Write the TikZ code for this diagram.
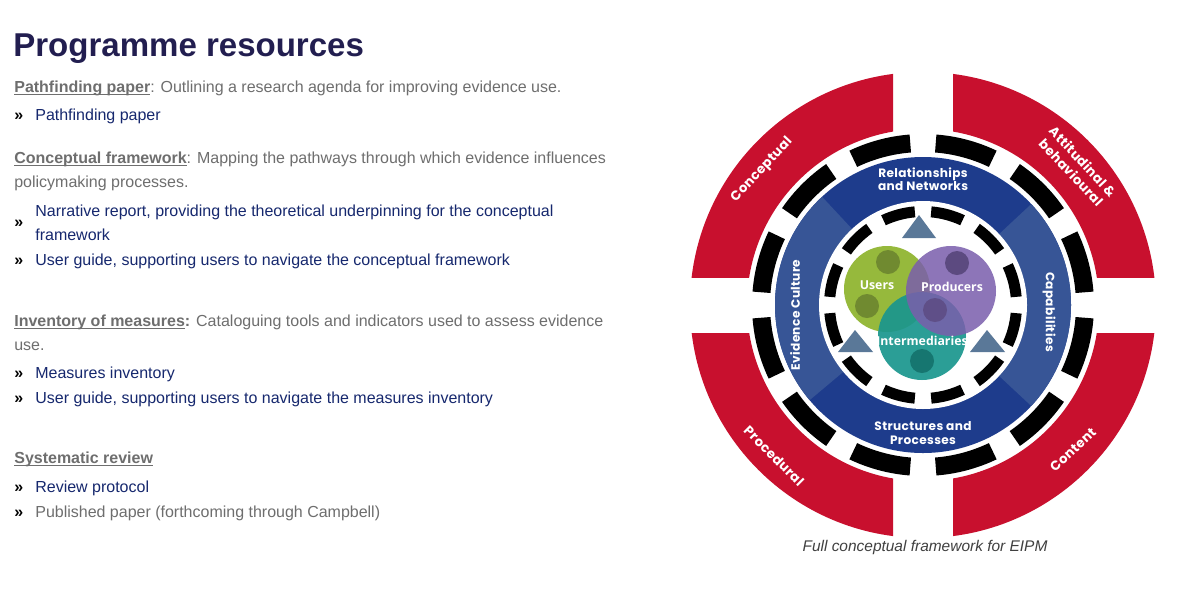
\documentclass[tikz,border=0pt]{standalone}
\usepackage{fontspec}
\setmainfont{Liberation Sans}
\newfontfamily\ringfont{Poppins}[LetterSpace=3]
\newfontfamily\vennfont{Open Sans}
\usetikzlibrary{positioning}
\definecolor{EIPMtitulo}{RGB}{34,30,80}
\definecolor{EIPMgris}  {RGB}{110,110,110}
\definecolor{EIPMenlace}{RGB}{22,40,110}
\definecolor{EIPMrojo}  {RGB}{200,16,46}
\definecolor{EIPMazul}  {RGB}{30,60,140}
\definecolor{EIPMazulc} {RGB}{55,85,150}
\definecolor{EIPMtri}   {RGB}{90,120,152}
\definecolor{EIPMverde} {RGB}{150,185,60}
\definecolor{EIPMverdeo}{RGB}{112,138,48}
\definecolor{EIPMmorado}{RGB}{122,94,172}
\definecolor{EIPMmoradoo}{RGB}{92,74,128}
\definecolor{EIPMteal}  {RGB}{26,150,142}
\definecolor{EIPMtealo} {RGB}{22,118,112}
\newcommand{\headul}[1]{\setbox0\hbox{#1}\rlap{\rule[-1.5pt]{\wd0}{0.55pt}}\box0}

\begin{document}
\begin{tikzpicture}[x=0.02cm,y=-0.02cm,
  bodytext/.style={anchor=base west,inner sep=0pt,text=EIPMgris,font=\fontsize{9.1}{11}\selectfont},
  linktext/.style={bodytext,text=EIPMenlace},
  bullet/.style={bodytext,text=black,font=\fontsize{9.1}{11}\selectfont\bfseries},
  ringlabel/.style={inner sep=0pt,text=white,align=center,font=\ringfont\fontsize{6.9}{7.6}\selectfont\bfseries},
  redlabel/.style={ringlabel,font=\ringfont\fontsize{7.5}{9}\selectfont\bfseries},
  vennlabel/.style={inner sep=0pt,text=white,font=\vennfont\fontsize{7}{8}\selectfont\bfseries}]
\useasboundingbox[fill=white] (0,0) rectangle (1200,606);

\node[anchor=base west,inner sep=0pt,text=EIPMtitulo,font=\fontsize{18.8}{22}\selectfont\bfseries] (title) at (13,56) {Programme resources};

\node[bodytext] (pfhead) at (14,92) {\headul{\textbf{Pathfinding paper}}: Outlining a research agenda for improving evidence use.};
\node[bullet] (b1) at (14,120) {»};
\node[linktext] (pflink) at (35,120) {Pathfinding paper};

\node[bodytext] (cfhead) at (14,163) {\headul{\textbf{Conceptual framework}}: Mapping the pathways through which evidence influences};
\node[bodytext] (cfhead2) at (14,187) {policymaking processes.};
\node[bullet] (b2) at (14,227) {»};
\node[linktext] (cflink1) at (35,216) {Narrative report, providing the theoretical underpinning for the conceptual};
\node[linktext] (cflink1b) at (35,240) {framework};
\node[bullet] (b3) at (14,265) {»};
\node[linktext] (cflink2) at (35,265) {User guide, supporting users to navigate the conceptual framework};

\node[bodytext] (imhead) at (14,326) {\headul{\textbf{Inventory of measures}}\textbf{:} Cataloguing tools and indicators used to assess evidence};
\node[bodytext] (imhead2) at (14,350) {use.};
\node[bullet] (b4) at (14,378) {»};
\node[linktext] (imlink1) at (35,378) {Measures inventory};
\node[bullet] (b5) at (14,403) {»};
\node[linktext] (imlink2) at (35,403) {User guide, supporting users to navigate the measures inventory};

\node[bodytext] (srhead) at (14,463) {\headul{\textbf{Systematic review}}};
\node[bullet] (b6) at (14,492) {»};
\node[linktext] (srlink1) at (35,492) {Review protocol};
\node[bullet] (b7) at (14,517) {»};
\node[bodytext] (srlink2) at (35,517) {Published paper (forthcoming through Campbell)};

\begin{scope}[shift={(923,305)},y=0.02cm]
\foreach \sx/\sy in {1/1,-1/1,-1/-1,1/-1}{
  \begin{scope}
    \clip (\sx*30,\sy*28) rectangle (\sx*240,\sy*240);
    \fill[EIPMrojo,even odd rule] (0,0) circle (233) (0,0) circle (176);
  \end{scope}
}
\foreach \a in {15,45,...,345}
  \fill[black] (\a-10.5:153) arc[start angle=\a-10.5,end angle=\a+10.5,radius=153]
    -- (\a+10.5:171) arc[start angle=\a+10.5,end angle=\a-10.5,radius=171] -- cycle;
\fill[EIPMazul] (0,0) circle (148);
\fill[EIPMazulc] (0,0) -- (-43:148) arc[start angle=-43,end angle=43,radius=148] -- cycle;
\fill[EIPMazulc] (0,0) -- (133:148) arc[start angle=133,end angle=220,radius=148] -- cycle;
\fill[white] (0,0) circle (104);
\foreach \a in {15,45,...,345}
  \fill[black] (\a-10:88) arc[start angle=\a-10,end angle=\a+10,radius=88]
    -- (\a+10:99) arc[start angle=\a+10,end angle=\a-10,radius=99] -- cycle;
\end{scope}

\fill[EIPMtri] (919,215) -- (936,238) -- (902,238) -- cycle;
\fill[EIPMtri] (855,330) -- (873,352) -- (838,352) -- cycle;
\fill[EIPMtri] (987,330) -- (1005,352) -- (970,352) -- cycle;

\fill[EIPMverde] (887,289) circle (43);
\fill[EIPMteal,opacity=0.92] (922,336) circle (44);
\fill[EIPMmorado,opacity=0.85] (951,291) circle (45);
\fill[EIPMverdeo] (888,262) circle (12);
\fill[EIPMverdeo] (867,306) circle (12);
\fill[EIPMmoradoo] (957,263) circle (12);
\fill[EIPMmoradoo,opacity=0.8] (935,310) circle (12);
\fill[EIPMtealo] (922,361) circle (12);

\node[vennlabel] (users) at (877,285) {Users};
\node[vennlabel] (producers) at (952,287) {Producers};
\node[vennlabel] (intermed) at (922,341) {Intermediaries};

\node[ringlabel] (relnet) at (923,179) {Relationships\\and Networks};
\node[ringlabel] (strproc) at (923,433) {Structures and\\Processes};
\node[ringlabel,rotate=90] (evcult) at (795,315) {Evidence Culture};
\node[ringlabel,rotate=-90] (capab) at (1049,312) {Capabilities};

\node[redlabel,rotate=47] (concept) at (762,170) {Conceptual};
\node[redlabel,rotate=-47] (attit) at (1077,167) {Attitudinal \&\\behavioural};
\node[redlabel,rotate=-45] (proced) at (774,456) {Procedural};
\node[redlabel,rotate=43] (content) at (1073,450) {Content};

\node[inner sep=0pt,anchor=base,text=black!75,font=\fontsize{8.8}{10}\selectfont\itshape] (caption) at (925,551) {Full conceptual framework for EIPM};
\end{tikzpicture}
\end{document}
